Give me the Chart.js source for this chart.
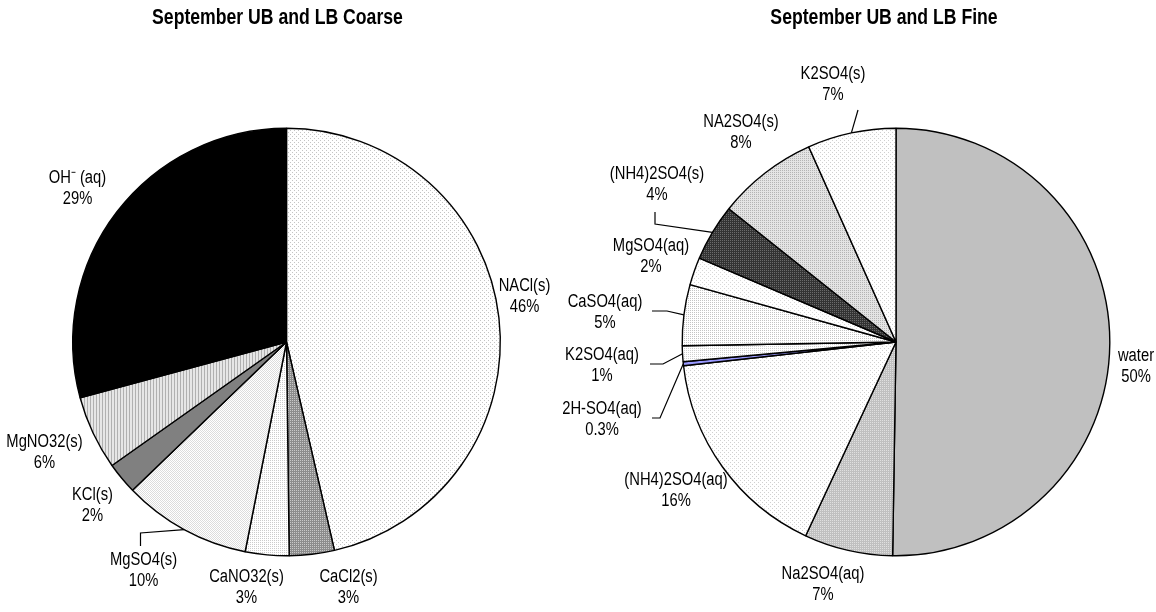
<!DOCTYPE html>
<html>
<head>
<meta charset="utf-8">
<script src="https://cdn.jsdelivr.net/npm/chart.js@4/dist/chart.umd.min.js"></script>
<style>
  body { margin: 0; background: #fff; }
  .box { position: absolute; top: 0; height: 612px; }
</style>
</head>
<body>
<div class="box" style="left:0;width:578px"><canvas id="coarseChart" width="578" height="612"></canvas></div>
<div class="box" style="left:500px;width:656px"><canvas id="fineChart" width="656" height="612"></canvas></div>
<script>
// data (share of total, %)
var coarseLabels = ['NACl(s)', 'CaCl2(s)', 'CaNO32(s)', 'MgSO4(s)', 'KCl(s)', 'MgNO32(s)', 'OH\u207B (aq)'];
var coarseValues = [46.4, 3.4, 3.3, 9.7, 2.4, 5.6, 29.2];

var fineLabels = ['water', 'Na2SO4(aq)', '(NH4)2SO4(aq)', '2H-SO4(aq)', 'K2SO4(aq)', 'CaSO4(aq)',
                  'MgSO4(aq)', '(NH4)2SO4(s)', 'NA2SO4(s)', 'K2SO4(s)'];
var fineValues = [50.3, 6.7, 16.3, 0.3, 1.2, 4.6, 2.1, 4.3, 7.6, 6.7];

// small tiled fills like the excel patterns
function pattern(bg, fg, rows) {
    var h = rows.length, w = rows[0].length;
    var c = document.createElement('canvas');
    c.width = w; c.height = h;
    var g = c.getContext('2d');
    g.fillStyle = bg;
    g.fillRect(0, 0, w, h);
    g.fillStyle = fg;
    for (var y = 0; y < h; y++)
        for (var x = 0; x < w; x++)
            if (rows[y][x] === 'x') g.fillRect(x, y, 1, 1);
    return g.createPattern(c, 'repeat');
}
var sparse = ['x...', '....', '..x.', '....'];
var quarter = ['x.', '..'];

var coarseFills = [
    pattern('#ffffff', '#c4c4c4', sparse),
    pattern('#8c8c8c', '#c8c8c8', quarter),
    pattern('#ffffff', '#cccccc', quarter),
    pattern('#ffffff', '#dcdcdc', ['x.', '.x']),
    '#808080',
    pattern('#e6e6e6', '#b0b0b0', ['x..']),
    '#000000'
];
var fineFills = [
    '#c0c0c0',
    pattern('#c0c0c0', '#e0e0e0', quarter),
    pattern('#ffffff', '#d0d0d0', sparse),
    '#9999ff',
    pattern('#ffffff', '#d0d0d0', quarter),
    pattern('#ffffff', '#c4c4c4', quarter),
    pattern('#ffffff', '#d8d8d8', sparse),
    pattern('#333333', '#6a6a6a', quarter),
    pattern('#e4e4e4', '#b4b4b4', quarter),
    pattern('#ffffff', '#d0d0d0', sparse)
];

var labelFont = '18px "Liberation Sans", Arial, sans-serif';
var titleFont = 'bold 21.5px "Liberation Sans", Arial, sans-serif';
var narrow = 0.82;   // squeeze to look like Arial Narrow

function narrowText(ctx, txt, x, y) {
    ctx.save();
    ctx.translate(x, y);
    ctx.scale(narrow, 1);
    ctx.fillText(txt, 0, 0);
    ctx.restore();
}

// labels, leader lines and title drawn around the pie
var sliceLabels = {
    id: 'sliceLabels',
    afterDatasetsDraw: function (chart, args, opts) {
        var ctx = chart.ctx;
        var meta = chart.getDatasetMeta(0);
        var data = chart.data.datasets[0].data;
        var total = data.reduce(function (a, b) { return a + b; }, 0);
        ctx.save();
        ctx.fillStyle = '#000';
        ctx.strokeStyle = '#000';
        ctx.lineWidth = 1.2;
        ctx.textAlign = 'center';
        ctx.textBaseline = 'middle';
        ctx.font = labelFont;
        var cx = 0, cy = 0;
        meta.data.forEach(function (arc, i) {
            var p = arc.getProps(['x', 'y', 'startAngle', 'endAngle', 'outerRadius'], true);
            cx = p.x; cy = p.y;
            var off = opts.offsets[i];
            var lx = p.x + off[0], ly = p.y + off[1];
            var pct = data[i] / total * 100;
            var txt = pct < 1 ? pct.toFixed(1) + '%' : Math.round(pct) + '%';
            narrowText(ctx, chart.data.labels[i], lx, ly - 10.5);
            narrowText(ctx, txt, lx, ly + 10.5);
            var lead = opts.leaders[i];
            if (lead) {
                var mid = (p.startAngle + p.endAngle) / 2;
                ctx.beginPath();
                ctx.moveTo(lx + lead[0][0], ly + lead[0][1]);
                for (var k = 1; k < lead.length; k++) ctx.lineTo(lx + lead[k][0], ly + lead[k][1]);
                ctx.lineTo(p.x + p.outerRadius * Math.cos(mid), p.y + p.outerRadius * Math.sin(mid));
                ctx.stroke();
            }
        });
        ctx.font = titleFont;
        narrowText(ctx, opts.title, cx + opts.titleDx, 18);
        ctx.restore();
    }
};

function makePie(id, labels, values, fills, pad, labelOpts) {
    return new Chart(document.getElementById(id).getContext('2d'), {
        type: 'pie',
        data: {
            labels: labels,
            datasets: [{
                data: values,
                backgroundColor: fills,
                borderColor: '#000',
                borderWidth: 1.4
            }]
        },
        options: {
            responsive: false,
            animation: false,
            layout: { padding: pad },
            plugins: {
                legend: { display: false },
                tooltip: { enabled: false },
                sliceLabels: labelOpts
            }
        },
        plugins: [sliceLabels]
    });
}

makePie('coarseChart', coarseLabels, coarseValues, coarseFills,
    { left: 72, right: 77, top: 127, bottom: 55 },
    {
        title: 'September UB and LB Coarse',
        titleDx: -9,
        offsets: [[238, -45], [62, 246], [-40, 246], [-143, 229], [-194, 164], [-242, 111], [-209, -153]],
        leaders: [null, null, null, [[-3, -25], [-3, -38]], null, null, null]
    });

makePie('fineChart', fineLabels, fineValues, fineFills,
    { left: 181.5, right: 45.5, top: 127, bottom: 55 },
    {
        title: 'September UB and LB Fine',
        titleDx: -12,
        offsets: [[240, 25], [-73, 243], [-220, 149], [-294, 78], [-294, 24], [-291, -29],
                  [-245, -85], [-239, -157], [-155, -209], [-63, -257]],
        leaders: [null, null, null, [[50, -2], [58, -2]], [[48, -2], [61, -2]], [[47, -2], [62, -2]],
                  null, [[-2, 27], [-2, 39]], null, [[25, 25]]]
    });
</script>
</body>
</html>
